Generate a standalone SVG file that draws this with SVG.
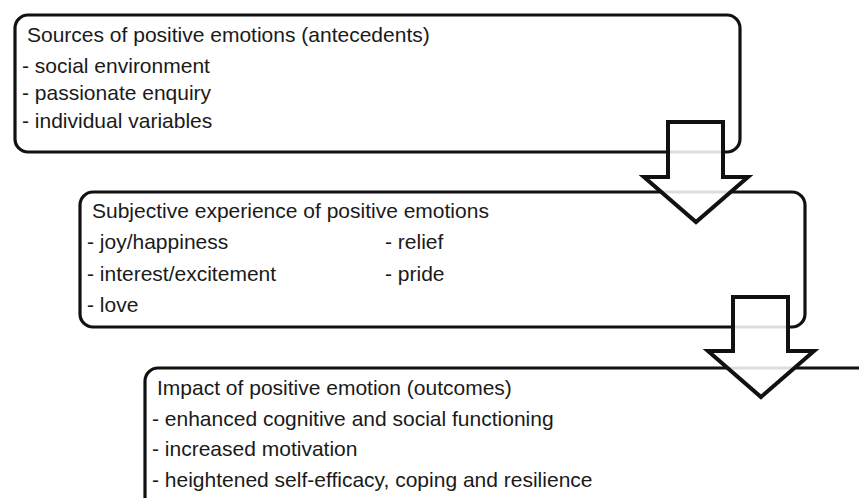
<svg xmlns="http://www.w3.org/2000/svg" width="859" height="498" viewBox="0 0 859 498">
<style>
.box{fill:#fff;stroke:#111;stroke-width:3.2}
.arrow{fill:#fff;fill-opacity:0.86;stroke:#111;stroke-width:4;stroke-linejoin:miter}
text{font-family:"Liberation Sans",Arial,sans-serif;font-size:21px;fill:#1a1a1a}
</style>
<rect width="859" height="498" fill="#fff"/>
<g id="node-sources">
<rect class="box" x="15" y="15" width="725" height="137" rx="13"/>
<text x="27" y="42">Sources of positive emotions (antecedents)</text>
<text x="22" y="73">- social environment</text>
<text x="22" y="100">- passionate enquiry</text>
<text x="22" y="128">- individual variables</text>
</g>
<g id="node-experience">
<rect class="box" x="80" y="192" width="725" height="135" rx="13"/>
<text x="92" y="218">Subjective experience of positive emotions</text>
<text x="87" y="249">- joy/happiness</text>
<text x="385" y="249">- relief</text>
<text x="87" y="281">- interest/excitement</text>
<text x="385" y="281">- pride</text>
<text x="87" y="312">- love</text>
</g>
<g id="node-impact">
<rect class="box" x="145" y="368" width="800" height="200" rx="13"/>
<text x="157" y="395">Impact of positive emotion (outcomes)</text>
<text x="152" y="426">- enhanced cognitive and social functioning</text>
<text x="152" y="456">- increased motivation</text>
<text x="152" y="487">- heightened self-efficacy, coping and resilience</text>
</g>
<g id="connectors">
<polygon class="arrow" points="668,122 723,122 723,177 748,177 696,222 644,177 668,177"/>
<polygon class="arrow" points="733,297 788,297 788,351 814,351 761,397 708,351 733,351"/>
</g>
</svg>
